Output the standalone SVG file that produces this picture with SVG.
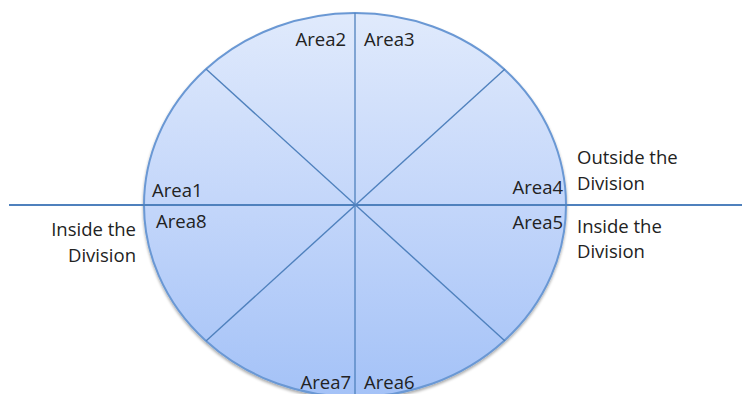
<svg xmlns="http://www.w3.org/2000/svg" width="742" height="394" viewBox="0 0 742 394">
<defs>
<linearGradient id="g" x1="0" y1="0" x2="0" y2="1">
<stop offset="0" stop-color="#e0eafc"/>
<stop offset="0.5" stop-color="#c3d6fa"/>
<stop offset="1" stop-color="#a4c2f7"/>
</linearGradient>
<filter id="sh" x="-10%" y="-10%" width="120%" height="120%">
<feGaussianBlur in="SourceAlpha" stdDeviation="1.5"/>
<feOffset dy="2"/>
<feComponentTransfer><feFuncA type="linear" slope="0.35"/></feComponentTransfer>
<feMerge><feMergeNode/><feMergeNode in="SourceGraphic"/></feMerge>
</filter>
</defs>
<style>
.t{font-family:"Open Sans","Liberation Sans",sans-serif;font-size:18.5px;fill:#222}
.e{text-anchor:end}
.ln{stroke:#4f81bd;fill:none}
</style>
<rect width="742" height="394" fill="#fff"/>
<g id="circle">
<ellipse cx="355" cy="205" rx="211" ry="192" fill="url(#g)" stroke="#6a98d4" stroke-width="2" filter="url(#sh)"/>
</g>
<g id="connectors">
<line class="ln" x1="355" y1="13" x2="355" y2="394" stroke-width="1.3"/>
<line class="ln" x1="206" y1="69" x2="505" y2="341" stroke-width="1.4"/>
<line class="ln" x1="505" y1="69" x2="206" y2="341" stroke-width="1.4"/>
<line class="ln" x1="9" y1="205" x2="742" y2="205" stroke-width="2.2"/>
</g>
<g id="labels">
<text class="t e" x="346" y="46">Area2</text>
<text class="t" x="364" y="46">Area3</text>
<text class="t" x="152" y="197">Area1</text>
<text class="t" x="156" y="228">Area8</text>
<text class="t e" x="563" y="194">Area4</text>
<text class="t e" x="563" y="229">Area5</text>
<text class="t e" x="351" y="389">Area7</text>
<text class="t" x="364" y="389">Area6</text>
<text class="t e" x="136" y="236">Inside the</text>
<text class="t e" x="136" y="262">Division</text>
<text class="t" x="577" y="164">Outside the</text>
<text class="t" x="577" y="190">Division</text>
<text class="t" x="577" y="233">Inside the</text>
<text class="t" x="577" y="258">Division</text>
</g>
</svg>
